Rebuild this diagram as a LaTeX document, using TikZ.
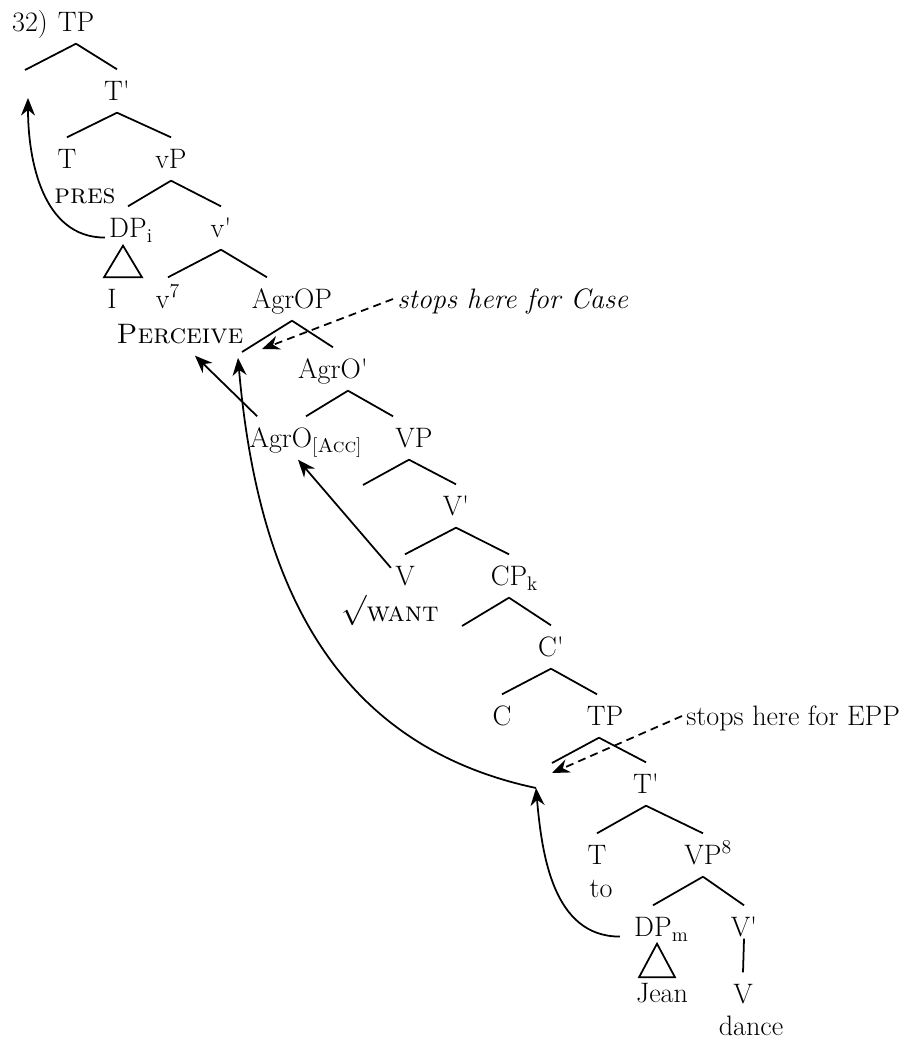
\documentclass[tikz,border=0pt]{standalone}
\usepackage{tikz}
\usetikzlibrary{arrows.meta,calc}
\definecolor{treeink}{HTML}{000000}
\newcommand{\brk}{\textquotesingle}
\tikzset{every node/.append style={font=\fontsize{16}{19}\selectfont,text=treeink}}
\tikzset{lbl/.style={inner xsep=2pt,inner ysep=3.5pt,text height=13.8pt,text depth=2.9pt},
  notedash/.style={dash pattern=on 4.5pt off 3pt}}

\begin{document}
\begin{tikzpicture}[>={Stealth[length=10pt,width=8pt]},x=0.02cm,y=-0.02cm,line width=1pt,treeink]
  \useasboundingbox (0,0) rectangle (904,1040);
  % matrix clause
  \node[lbl] (exnum) at (30,22) {32)};
  \node[lbl] (TPa) at (76,22) {TP};
  \node[lbl] (Tbara) at (117,91) {T\brk};
  \node[lbl] (Ta) at (67,159) {T};
  \node[lbl] (pres) at (85,194) {\textsc{pres}};
  \node[lbl] (vP) at (171,159) {vP};
  \node[lbl] (DPi) at (128,228) {DP\rlap{\textsubscript{i}}};
  \node[lbl] (vbar) at (221,228) {v\brk};
  \node[lbl] (Ipro) at (112,299) {I};
  \node[lbl] (vsev) at (168,299) {v\textsuperscript{7}};
  \node[lbl] (AgrOP) at (292,299) {AgrOP};
  \node[lbl,anchor=west] (casenote) at (393,299) {\textit{stops here for Case}};
  \node[lbl] (perceive) at (180,334) {\textsc{Perceive}};
  \node[lbl] (AgrObar) at (333,369) {AgrO\brk};
  \node[lbl] (AgrO) at (306,438) {AgrO\textsubscript{[\textsc{Acc}]}};
  \node[lbl] (VP) at (414,438) {VP};
  \node[lbl] (Vbar) at (456,506) {V\brk};
  \node[lbl] (Vwant) at (405,576) {V};
  \node[lbl] (want) at (390,612) {\raisebox{2pt}{$\surd$}\textsc{want}};
  \node[lbl] (CPk) at (509,576) {CP\rlap{\textsubscript{k}}};
  % embedded clause
  \node[lbl] (Cbar) at (551,647) {C\brk};
  \node[lbl] (Cc) at (502,716) {C};
  \node[lbl] (TPb) at (605,716) {TP};
  \node[lbl,anchor=west] (eppnote) at (682,716) {stops here for EPP};
  \node[lbl] (Tbarb) at (646,784) {T\brk};
  \node[lbl] (Tb) at (597,855) {T};
  \node[lbl] (to) at (601,888) {to};
  \node[lbl] (VPe) at (703,855) {VP\rlap{\textsuperscript{8}}};
  \node[lbl] (DPm) at (653,927) {DP\rlap{\textsubscript{m}}};
  \node[lbl] (Vbarb) at (744,927) {V\brk};
  \node[lbl] (Jean) at (662,993) {Jean};
  \node[lbl] (Vd) at (743,994) {V};
  \node[lbl] (dance) at (751,1026) {dance};
  % empty specifiers and landing sites
  \coordinate (TPspec) at (25,70);
  \coordinate (Ttrace) at (28,98);
  \coordinate (AgrOspec) at (242,352);
  \coordinate (AgrOtrace) at (238,358);
  \coordinate (caseland) at (262,349);
  \coordinate (VPspec) at (363,485);
  \coordinate (CPspec) at (462,626);
  \coordinate (TPspec2) at (552,763);
  \coordinate (eppland) at (552,773);
  \coordinate (TPtrace) at (536,788);
  % branches
  \draw (TPa.south) -- (TPspec) (TPa.south) -- (Tbara.north);
  \draw (Tbara.south) -- (Ta.north) (Tbara.south) -- (vP.north);
  \draw (vP.south) -- (DPi.north) (vP.south) -- (vbar.north);
  \draw (vbar.south) -- (vsev.north) (vbar.south) -- ([xshift=-.5cm]AgrOP.north);
  \draw (AgrOP.south) -- (AgrOspec) (AgrOP.south) -- (AgrObar.north);
  \draw ([xshift=.3cm]AgrObar.south) -- (AgrO.north) ([xshift=.3cm]AgrObar.south) -- ([xshift=-.42cm]VP.north);
  \draw ([xshift=-.1cm]VP.south) -- (VPspec) ([xshift=-.1cm]VP.south) -- (Vbar.north);
  \draw (Vbar.south) -- (Vwant.north) (Vbar.south) -- (CPk.north);
  \draw (CPk.south) -- (CPspec) (CPk.south) -- (Cbar.north);
  \draw (Cbar.south) -- (Cc.north) (Cbar.south) -- ([xshift=-.16cm]TPb.north);
  \draw ([xshift=-.12cm]TPb.south) -- (TPspec2) ([xshift=-.12cm]TPb.south) -- (Tbarb.north);
  \draw (Tbarb.south) -- (Tb.north) (Tbarb.south) -- (VPe.north);
  \draw (VPe.south) -- (DPm.north) (VPe.south) -- (Vbarb.north);
  \draw ([yshift=.2cm]Vbarb.south) -- (Vd.north);
  \draw ($(DPi.south)+(-5,-4)$) -- ($(Ipro.north)+(-8,0)$) -- ($(Ipro.north)+(30,0)$) -- cycle;
  \draw ($(DPm.south)+(4,-5)$) -- ($(Jean.north)+(-23,6)$) -- ($(Jean.north)+(13,6)$) -- cycle;
  % movement
  \draw[->] (DPi.base west) to[out=180,in=-90] (Ttrace);
  \draw[->] ([xshift=.24cm]AgrO.north west) -- ([xshift=.3cm]perceive.south);
  \draw[->] (Vwant.150) -- ([xshift=-.16cm]AgrO.south);
  \draw[->] (TPtrace) to[out=168,in=-85,looseness=1.05] (AgrOtrace);
  \draw[->] ([xshift=-.2cm]DPm.base west) to[out=180,in=-85] (TPtrace);
  \draw[->,notedash] (casenote.west) -- (caseland);
  \draw[->,notedash] (eppnote.west) -- (eppland);
\end{tikzpicture}
\end{document}
